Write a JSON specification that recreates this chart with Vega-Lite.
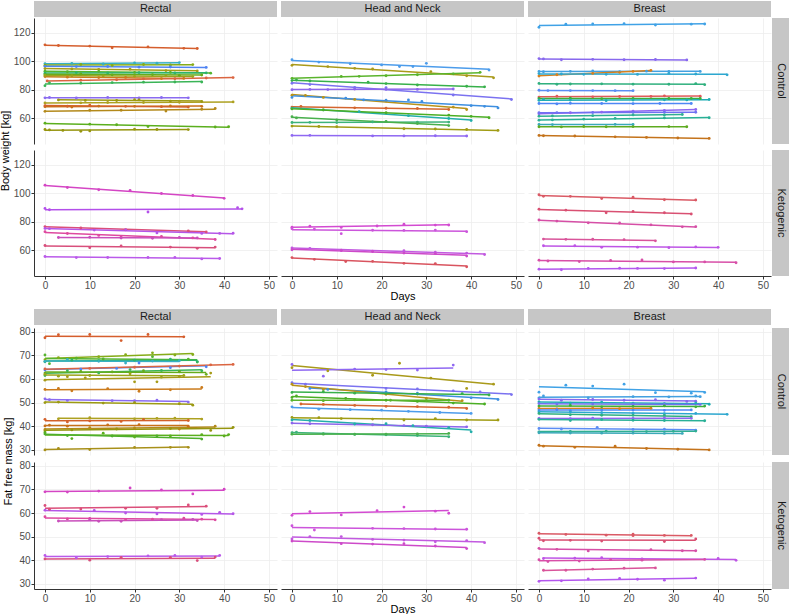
{
"$schema":"https://vega.github.io/schema/vega-lite/v6.json",
"background":"white",
"padding":{"left":0,"top":1,"right":0,"bottom":0},
"datasets":{
"bRC":[
{"p":"A01","t":0,"v":111.7},{"p":"A01","t":3,"v":111.2},{"p":"A01","t":10,"v":110.8},{"p":"A01","t":15,"v":109.6},{"p":"A01","t":23,"v":110.2},{"p":"A01","t":31,"v":109.2},{"p":"A01","t":34,"v":109.1},
{"p":"A02","t":0,"v":98.5},{"p":"A02","t":6,"v":98.7},{"p":"A02","t":13,"v":98.2},{"p":"A02","t":20,"v":99.0},{"p":"A02","t":25,"v":98.8},{"p":"A02","t":30,"v":99.2},
{"p":"A03","t":0,"v":97.4},{"p":"A03","t":8,"v":97.9},{"p":"A03","t":15,"v":97.2},{"p":"A03","t":22,"v":97.9},{"p":"A03","t":28,"v":97.6},{"p":"A03","t":33,"v":97.8},
{"p":"A04","t":0,"v":96.6},{"p":"A04","t":7,"v":96.4},{"p":"A04","t":14,"v":96.5},{"p":"A04","t":21,"v":96.0},{"p":"A04","t":28,"v":96.1},{"p":"A04","t":36,"v":95.8},
{"p":"A05","t":0,"v":95.0},{"p":"A05","t":6,"v":94.8},{"p":"A05","t":12,"v":94.5},{"p":"A05","t":19,"v":94.6},{"p":"A05","t":27,"v":93.6},{"p":"A05","t":34,"v":93.4},
{"p":"A06","t":0,"v":93.2},{"p":"A06","t":5,"v":92.8},{"p":"A06","t":12,"v":93.0},{"p":"A06","t":20,"v":92.3},{"p":"A06","t":28,"v":92.4},{"p":"A06","t":37,"v":91.8},
{"p":"A07","t":0,"v":91.8},{"p":"A07","t":7,"v":92.2},{"p":"A07","t":14,"v":92.0},{"p":"A07","t":21,"v":92.2},{"p":"A07","t":29,"v":91.9},{"p":"A07","t":36,"v":92.0},
{"p":"A08","t":0,"v":90.8},{"p":"A08","t":8,"v":91.2},{"p":"A08","t":15,"v":90.6},{"p":"A08","t":24,"v":90.8},{"p":"A08","t":30,"v":90.3},{"p":"A08","t":35,"v":90.5},
{"p":"A09","t":0,"v":89.4},{"p":"A09","t":5,"v":89.0},{"p":"A09","t":12,"v":88.7},{"p":"A09","t":18,"v":88.8},{"p":"A09","t":26,"v":88.0},{"p":"A09","t":31,"v":88.1},
{"p":"A10","t":0.5,"v":86.3},{"p":"A10","t":8,"v":86.8},{"p":"A10","t":16,"v":87.2},{"p":"A10","t":22,"v":87.8},{"p":"A10","t":29,"v":87.9},{"p":"A10","t":36,"v":88.4},{"p":"A10","t":42,"v":88.7},
{"p":"A11","t":0,"v":83.0},{"p":"A11","t":1,"v":85.0},{"p":"A11","t":8,"v":84.8},{"p":"A11","t":15,"v":85.2},{"p":"A11","t":22,"v":85.5},{"p":"A11","t":29,"v":85.6},{"p":"A11","t":35,"v":85.6},
{"p":"A12","t":0,"v":90.2},{"p":"A12","t":6,"v":90.0},{"p":"A12","t":13,"v":89.8},{"p":"A12","t":20,"v":89.6},{"p":"A12","t":27,"v":89.9},{"p":"A12","t":33,"v":89.4},
{"p":"A13","t":0,"v":74.5},{"p":"A13","t":1,"v":74.7},{"p":"A13","t":7,"v":74.4},{"p":"A13","t":14,"v":74.8},{"p":"A13","t":21,"v":74.4},{"p":"A13","t":26,"v":74.7},{"p":"A13","t":32,"v":74.5},
{"p":"A14","t":3,"v":73.0},{"p":"A14","t":9,"v":72.7},{"p":"A14","t":16,"v":72.6},{"p":"A14","t":20,"v":73.2},{"p":"A14","t":21,"v":73.1},{"p":"A14","t":28,"v":72.2},{"p":"A14","t":35,"v":71.9},
{"p":"A15","t":0,"v":70.9},{"p":"A15","t":8,"v":71.0},{"p":"A15","t":14,"v":71.2},{"p":"A15","t":22,"v":71.2},{"p":"A15","t":30,"v":71.4},{"p":"A15","t":42,"v":71.6},
{"p":"A16","t":0,"v":68.3},{"p":"A16","t":6,"v":68.0},{"p":"A16","t":12,"v":68.7},{"p":"A16","t":20,"v":68.5},{"p":"A16","t":28,"v":68.8},{"p":"A16","t":35,"v":68.5},
{"p":"A17","t":0,"v":69.0},{"p":"A17","t":5,"v":68.6},{"p":"A17","t":10,"v":69.3},{"p":"A17","t":18,"v":68.5},{"p":"A17","t":26,"v":68.3},{"p":"A17","t":32,"v":68.0},
{"p":"A18","t":0,"v":65.0},{"p":"A18","t":10,"v":65.8},{"p":"A18","t":17,"v":65.8},{"p":"A18","t":27,"v":65.2},{"p":"A18","t":35,"v":66.5},{"p":"A18","t":38,"v":67.0},
{"p":"A19","t":0,"v":56.7},{"p":"A19","t":10,"v":56.0},{"p":"A19","t":16,"v":55.6},{"p":"A19","t":23,"v":54.4},{"p":"A19","t":38,"v":54.0},{"p":"A19","t":41,"v":54.2},
{"p":"A20","t":0,"v":52.3},{"p":"A20","t":1,"v":52.0},{"p":"A20","t":4,"v":51.6},{"p":"A20","t":8,"v":51.0},{"p":"A20","t":10,"v":51.3},{"p":"A20","t":20,"v":52.5},{"p":"A20","t":25,"v":52.3},{"p":"A20","t":32,"v":52.2}
],
"bHC":[
{"p":"B01","t":0,"v":101.2},{"p":"B01","t":6,"v":99.6},{"p":"B01","t":13,"v":98.4},{"p":"B01","t":20,"v":97.6},{"p":"B01","t":24,"v":96.5},{"p":"B01","t":27,"v":96.5},{"p":"B01","t":30,"v":98.7},{"p":"B01","t":44,"v":94.0},
{"p":"B02","t":0,"v":97.3},{"p":"B02","t":8,"v":96.4},{"p":"B02","t":14,"v":95.2},{"p":"B02","t":18,"v":94.7},{"p":"B02","t":31,"v":92.9},{"p":"B02","t":39,"v":90.0},{"p":"B02","t":45,"v":88.5},
{"p":"B03","t":0,"v":88.2},{"p":"B03","t":11,"v":89.5},{"p":"B03","t":15,"v":89.6},{"p":"B03","t":21,"v":90.0},{"p":"B03","t":28,"v":90.7},{"p":"B03","t":36,"v":91.3},{"p":"B03","t":42,"v":92.4},
{"p":"B04","t":0,"v":86.6},{"p":"B04","t":1,"v":87.0},{"p":"B04","t":4,"v":86.3},{"p":"B04","t":17,"v":85.4},{"p":"B04","t":21,"v":84.5},{"p":"B04","t":28,"v":83.5},{"p":"B04","t":39,"v":82.6},{"p":"B04","t":43,"v":82.2},
{"p":"B05","t":0,"v":84.7},{"p":"B05","t":4,"v":83.8},{"p":"B05","t":14,"v":81.8},{"p":"B05","t":21,"v":81.7},{"p":"B05","t":36,"v":76.5},{"p":"B05","t":49,"v":73.3},
{"p":"B06","t":0,"v":80.2},{"p":"B06","t":4,"v":80.4},{"p":"B06","t":8,"v":80.3},{"p":"B06","t":14,"v":80.6},{"p":"B06","t":21,"v":80.4},{"p":"B06","t":28,"v":80.4},{"p":"B06","t":36,"v":80.7},
{"p":"B07","t":0,"v":76.3},{"p":"B07","t":3,"v":76.2},{"p":"B07","t":7,"v":74.8},{"p":"B07","t":14,"v":73.4},{"p":"B07","t":21,"v":72.2},{"p":"B07","t":36,"v":68.0},{"p":"B07","t":39,"v":66.3},
{"p":"B08","t":0,"v":74.8},{"p":"B08","t":12,"v":74.3},{"p":"B08","t":16,"v":73.0},{"p":"B08","t":21,"v":72.8},{"p":"B08","t":26,"v":73.0},{"p":"B08","t":29,"v":72.0},{"p":"B08","t":40,"v":69.0},{"p":"B08","t":43,"v":68.5},{"p":"B08","t":46,"v":67.4},
{"p":"B09","t":0,"v":68.0},{"p":"B09","t":2,"v":68.5},{"p":"B09","t":14,"v":67.5},{"p":"B09","t":21,"v":67.2},{"p":"B09","t":28,"v":67.0},{"p":"B09","t":35,"v":66.3},
{"p":"B10","t":0,"v":67.2},{"p":"B10","t":7,"v":66.0},{"p":"B10","t":15,"v":64.8},{"p":"B10","t":26,"v":62.0},{"p":"B10","t":35,"v":60.0},{"p":"B10","t":40,"v":58.6},
{"p":"B11","t":0,"v":66.7},{"p":"B11","t":7,"v":66.0},{"p":"B11","t":21,"v":64.0},{"p":"B11","t":35,"v":62.4},{"p":"B11","t":40,"v":61.5},{"p":"B11","t":44,"v":60.5},
{"p":"B12","t":0,"v":57.2},{"p":"B12","t":4,"v":57.3},{"p":"B12","t":10,"v":57.1},{"p":"B12","t":18,"v":57.6},{"p":"B12","t":28,"v":57.5},{"p":"B12","t":35,"v":57.5},
{"p":"B13","t":0,"v":61.2},{"p":"B13","t":1,"v":60.4},{"p":"B13","t":10,"v":59.0},{"p":"B13","t":21,"v":58.0},{"p":"B13","t":28,"v":56.5},{"p":"B13","t":35,"v":55.0},
{"p":"B14","t":0,"v":54.7},{"p":"B14","t":6,"v":54.4},{"p":"B14","t":10,"v":54.2},{"p":"B14","t":25,"v":52.8},{"p":"B14","t":32,"v":52.6},{"p":"B14","t":39,"v":52.3},{"p":"B14","t":46,"v":51.6},
{"p":"B15","t":0,"v":48.1},{"p":"B15","t":4,"v":48.2},{"p":"B15","t":18,"v":47.8},{"p":"B15","t":25,"v":47.8},{"p":"B15","t":32,"v":47.9},{"p":"B15","t":39,"v":47.7}
],
"bBC":[
{"p":"C01","t":0,"v":124.0},{"p":"C01","t":6,"v":126.1},{"p":"C01","t":12,"v":126.3},{"p":"C01","t":19,"v":126.5},{"p":"C01","t":26,"v":125.6},{"p":"C01","t":34,"v":126.2},{"p":"C01","t":37,"v":126.3},
{"p":"C02","t":0,"v":102.0},{"p":"C02","t":1,"v":101.8},{"p":"C02","t":5,"v":101.2},{"p":"C02","t":12,"v":101.5},{"p":"C02","t":19,"v":101.2},{"p":"C02","t":26,"v":101.4},{"p":"C02","t":33,"v":101.1},
{"p":"C03","t":0,"v":93.0},{"p":"C03","t":1,"v":92.8},{"p":"C03","t":7,"v":93.1},{"p":"C03","t":12,"v":93.3},{"p":"C03","t":18,"v":92.9},{"p":"C03","t":24,"v":93.2},{"p":"C03","t":29,"v":93.0},{"p":"C03","t":36,"v":93.0},
{"p":"C04","t":0,"v":89.8},{"p":"C04","t":4,"v":90.7},{"p":"C04","t":12,"v":91.6},{"p":"C04","t":18,"v":92.4},{"p":"C04","t":21,"v":93.0},{"p":"C04","t":25,"v":93.7},
{"p":"C05","t":0,"v":91.5},{"p":"C05","t":5,"v":91.2},{"p":"C05","t":10,"v":91.0},{"p":"C05","t":15,"v":91.0},{"p":"C05","t":22,"v":90.9},{"p":"C05","t":29,"v":91.7},{"p":"C05","t":35,"v":91.2},{"p":"C05","t":42,"v":90.6},
{"p":"C06","t":0,"v":84.6},{"p":"C06","t":4,"v":84.0},{"p":"C06","t":7,"v":84.2},{"p":"C06","t":14,"v":84.3},{"p":"C06","t":21,"v":84.1},{"p":"C06","t":29,"v":84.0},{"p":"C06","t":35,"v":84.5},{"p":"C06","t":37,"v":83.7},
{"p":"C07","t":0,"v":79.8},{"p":"C07","t":2,"v":79.6},{"p":"C07","t":7,"v":79.6},{"p":"C07","t":12,"v":79.6},{"p":"C07","t":17,"v":79.5},{"p":"C07","t":21,"v":79.5},
{"p":"C08","t":0,"v":75.0},{"p":"C08","t":4,"v":75.6},{"p":"C08","t":12,"v":75.2},{"p":"C08","t":18,"v":75.4},{"p":"C08","t":25,"v":75.5},{"p":"C08","t":28,"v":75.9},{"p":"C08","t":36,"v":75.6},
{"p":"C09","t":0,"v":74.0},{"p":"C09","t":7,"v":74.2},{"p":"C09","t":14,"v":73.9},{"p":"C09","t":21,"v":74.1},{"p":"C09","t":29,"v":74.0},{"p":"C09","t":34,"v":74.1},{"p":"C09","t":36,"v":74.0},
{"p":"C10","t":0,"v":72.8},{"p":"C10","t":1,"v":73.3},{"p":"C10","t":7,"v":72.9},{"p":"C10","t":15,"v":72.5},{"p":"C10","t":21,"v":72.9},{"p":"C10","t":28,"v":73.1},{"p":"C10","t":33,"v":73.0},{"p":"C10","t":38,"v":73.3},
{"p":"C11","t":0,"v":70.5},{"p":"C11","t":4,"v":70.2},{"p":"C11","t":7,"v":70.7},{"p":"C11","t":14,"v":70.5},{"p":"C11","t":21,"v":70.4},{"p":"C11","t":27,"v":70.5},{"p":"C11","t":34,"v":70.5},
{"p":"C12","t":0,"v":63.4},{"p":"C12","t":7,"v":64.0},{"p":"C12","t":14,"v":64.5},{"p":"C12","t":21,"v":65.2},{"p":"C12","t":28,"v":65.6},{"p":"C12","t":35,"v":66.3},
{"p":"C13","t":0,"v":64.0},{"p":"C13","t":4,"v":64.0},{"p":"C13","t":12,"v":64.2},{"p":"C13","t":21,"v":64.3},{"p":"C13","t":28,"v":64.4},{"p":"C13","t":35,"v":64.4},
{"p":"C14","t":0,"v":61.6},{"p":"C14","t":3,"v":61.8},{"p":"C14","t":12,"v":62.0},{"p":"C14","t":21,"v":62.5},{"p":"C14","t":28,"v":62.5},{"p":"C14","t":32,"v":62.8},
{"p":"C15","t":0,"v":58.8},{"p":"C15","t":3,"v":59.0},{"p":"C15","t":10,"v":59.6},{"p":"C15","t":17,"v":60.1},{"p":"C15","t":28,"v":60.4},{"p":"C15","t":38,"v":60.5},
{"p":"C16","t":0,"v":55.8},{"p":"C16","t":3,"v":55.7},{"p":"C16","t":17,"v":55.9},{"p":"C16","t":21,"v":55.8},
{"p":"C17","t":0,"v":54.2},{"p":"C17","t":5,"v":54.1},{"p":"C17","t":10,"v":54.4},{"p":"C17","t":15,"v":54.2},{"p":"C17","t":21,"v":54.3},{"p":"C17","t":29,"v":54.3},{"p":"C17","t":33,"v":54.2},
{"p":"C18","t":0,"v":48.1},{"p":"C18","t":1,"v":47.9},{"p":"C18","t":8,"v":47.7},{"p":"C18","t":17,"v":47.1},{"p":"C18","t":24,"v":46.7},{"p":"C18","t":31,"v":46.3},{"p":"C18","t":38,"v":46.0}
],
"bRK":[
{"p":"D01","t":0,"v":105.8},{"p":"D01","t":5,"v":104.2},{"p":"D01","t":12,"v":102.6},{"p":"D01","t":19,"v":102.1},{"p":"D01","t":26,"v":100.0},{"p":"D01","t":33,"v":98.6},{"p":"D01","t":40,"v":96.6},
{"p":"D02","t":0,"v":89.5},{"p":"D02","t":1,"v":88.6},{"p":"D02","t":23,"v":87.0},{"p":"D02","t":43,"v":90.0},{"p":"D02","t":44,"v":89.2},
{"p":"D03","t":0,"v":76.8},{"p":"D03","t":8,"v":75.8},{"p":"D03","t":18,"v":74.6},{"p":"D03","t":32,"v":73.8},{"p":"D03","t":36,"v":73.0},
{"p":"D04","t":0,"v":75.5},{"p":"D04","t":1,"v":75.3},{"p":"D04","t":11,"v":74.3},{"p":"D04","t":18,"v":74.5},{"p":"D04","t":25,"v":72.3},{"p":"D04","t":35,"v":72.0},{"p":"D04","t":39,"v":72.0},{"p":"D04","t":42,"v":72.1},
{"p":"D05","t":0,"v":73.2},{"p":"D05","t":5,"v":71.9},{"p":"D05","t":12,"v":70.6},{"p":"D05","t":17,"v":69.5},{"p":"D05","t":26,"v":69.8},{"p":"D05","t":33,"v":68.9},{"p":"D05","t":38,"v":67.7},
{"p":"D06","t":3,"v":69.1},{"p":"D06","t":10,"v":69.3},{"p":"D06","t":17,"v":68.7},{"p":"D06","t":24,"v":68.5},{"p":"D06","t":30,"v":69.2},{"p":"D06","t":34,"v":68.8},
{"p":"D07","t":0,"v":63.5},{"p":"D07","t":10,"v":62.0},{"p":"D07","t":17,"v":63.2},{"p":"D07","t":28,"v":62.4},{"p":"D07","t":34,"v":61.5},{"p":"D07","t":38,"v":62.4},
{"p":"D08","t":0,"v":55.8},{"p":"D08","t":7,"v":55.0},{"p":"D08","t":14,"v":55.1},{"p":"D08","t":23,"v":55.1},{"p":"D08","t":29,"v":55.2},{"p":"D08","t":35,"v":54.1},{"p":"D08","t":39,"v":54.4}
],
"bHK":[
{"p":"E01","t":0,"v":76.3},{"p":"E01","t":4,"v":77.0},{"p":"E01","t":11,"v":76.2},{"p":"E01","t":19,"v":77.2},{"p":"E01","t":25,"v":78.4},{"p":"E01","t":32,"v":77.8},{"p":"E01","t":35,"v":77.9},
{"p":"E02","t":0,"v":75.3},{"p":"E02","t":5,"v":75.0},{"p":"E02","t":11,"v":71.8},{"p":"E02","t":18,"v":74.2},{"p":"E02","t":25,"v":74.1},{"p":"E02","t":32,"v":74.3},{"p":"E02","t":39,"v":73.2},
{"p":"E03","t":0,"v":61.8},{"p":"E03","t":4,"v":61.4},{"p":"E03","t":11,"v":60.2},{"p":"E03","t":18,"v":59.6},{"p":"E03","t":25,"v":59.8},{"p":"E03","t":32,"v":58.8},{"p":"E03","t":39,"v":58.2},{"p":"E03","t":43,"v":57.2},
{"p":"E04","t":0,"v":60.5},{"p":"E04","t":11,"v":60.0},{"p":"E04","t":18,"v":59.3},{"p":"E04","t":25,"v":58.2},{"p":"E04","t":32,"v":57.8},{"p":"E04","t":39,"v":56.1},
{"p":"E05","t":0,"v":55.0},{"p":"E05","t":5,"v":53.8},{"p":"E05","t":12,"v":52.2},{"p":"E05","t":18,"v":52.4},{"p":"E05","t":25,"v":51.0},{"p":"E05","t":32,"v":50.8},{"p":"E05","t":39,"v":48.6}
],
"bBK":[
{"p":"F01","t":0,"v":99.1},{"p":"F01","t":1,"v":98.0},{"p":"F01","t":7,"v":98.0},{"p":"F01","t":14,"v":96.4},{"p":"F01","t":21,"v":97.4},{"p":"F01","t":28,"v":95.6},{"p":"F01","t":35,"v":95.4},
{"p":"F02","t":0,"v":89.0},{"p":"F02","t":6,"v":88.3},{"p":"F02","t":15,"v":86.4},{"p":"F02","t":21,"v":87.4},{"p":"F02","t":28,"v":86.5},{"p":"F02","t":34,"v":85.6},
{"p":"F03","t":0,"v":81.4},{"p":"F03","t":4,"v":80.6},{"p":"F03","t":11,"v":79.4},{"p":"F03","t":18,"v":79.3},{"p":"F03","t":25,"v":78.0},{"p":"F03","t":32,"v":76.6},{"p":"F03","t":35,"v":76.7},
{"p":"F04","t":1,"v":68.0},{"p":"F04","t":6,"v":67.8},{"p":"F04","t":12,"v":67.9},{"p":"F04","t":19,"v":67.6},{"p":"F04","t":26,"v":66.8},
{"p":"F05","t":1,"v":63.3},{"p":"F05","t":8,"v":63.3},{"p":"F05","t":14,"v":62.2},{"p":"F05","t":22,"v":62.3},{"p":"F05","t":29,"v":62.0},{"p":"F05","t":35,"v":62.5},{"p":"F05","t":40,"v":62.2},
{"p":"F06","t":0,"v":53.2},{"p":"F06","t":2,"v":52.6},{"p":"F06","t":9,"v":52.2},{"p":"F06","t":16,"v":53.0},{"p":"F06","t":23,"v":53.3},{"p":"F06","t":30,"v":52.0},{"p":"F06","t":37,"v":52.0},{"p":"F06","t":44,"v":51.4},
{"p":"F07","t":0,"v":46.9},{"p":"F07","t":5,"v":46.5},{"p":"F07","t":11,"v":47.4},{"p":"F07","t":18,"v":47.6},{"p":"F07","t":22,"v":47.4},{"p":"F07","t":28,"v":47.3},{"p":"F07","t":35,"v":47.7}
],
"fRC":[
{"p":"A01","t":0,"v":77.5},{"p":"A01","t":3,"v":78.8},{"p":"A01","t":10,"v":78.9},{"p":"A01","t":17,"v":76.3},{"p":"A01","t":23,"v":78.9},{"p":"A01","t":31,"v":77.9},
{"p":"A03","t":0,"v":68.2},{"p":"A03","t":3,"v":69.1},{"p":"A03","t":12,"v":69.5},{"p":"A03","t":18,"v":70.3},{"p":"A03","t":24,"v":71.1},{"p":"A03","t":29,"v":70.2},{"p":"A03","t":33,"v":70.4},
{"p":"A06","t":0,"v":70.2},{"p":"A06","t":1,"v":66.5},{"p":"A06","t":7,"v":68.8},{"p":"A06","t":13,"v":68.5},{"p":"A06","t":24,"v":69.5},{"p":"A06","t":32,"v":68.4},{"p":"A06","t":34,"v":67.2},
{"p":"A07","t":0,"v":67.3},{"p":"A07","t":6,"v":68.0},{"p":"A07","t":12,"v":67.8},{"p":"A07","t":20,"v":68.0},{"p":"A07","t":28,"v":68.4},{"p":"A07","t":34,"v":67.4},
{"p":"A02","t":0,"v":67.5},{"p":"A02","t":5,"v":68.3},{"p":"A02","t":12,"v":67.5},{"p":"A02","t":18,"v":66.8},{"p":"A02","t":24,"v":67.6},{"p":"A02","t":30,"v":67.8},
{"p":"A04","t":0,"v":63.8},{"p":"A04","t":8,"v":64.2},{"p":"A04","t":16,"v":64.5},{"p":"A04","t":21,"v":66.8},{"p":"A04","t":28,"v":64.8},{"p":"A04","t":36,"v":65.2},
{"p":"A10","t":0,"v":64.3},{"p":"A10","t":10,"v":64.5},{"p":"A10","t":20,"v":65.0},{"p":"A10","t":30,"v":65.5},{"p":"A10","t":37,"v":66.0},{"p":"A10","t":42,"v":66.2},
{"p":"A11","t":0,"v":61.5},{"p":"A11","t":5,"v":63.5},{"p":"A11","t":12,"v":62.6},{"p":"A11","t":19,"v":64.0},{"p":"A11","t":26,"v":63.6},{"p":"A11","t":35,"v":63.5},
{"p":"A08","t":0,"v":62.5},{"p":"A08","t":8,"v":63.2},{"p":"A08","t":15,"v":63.0},{"p":"A08","t":22,"v":63.5},{"p":"A08","t":30,"v":63.2},{"p":"A08","t":36,"v":62.0},
{"p":"A12","t":0,"v":62.0},{"p":"A12","t":3,"v":61.2},{"p":"A12","t":10,"v":61.5},{"p":"A12","t":19,"v":62.2},{"p":"A12","t":26,"v":60.8},{"p":"A12","t":31,"v":61.5},
{"p":"A05","t":0,"v":59.5},{"p":"A05","t":5,"v":61.0},{"p":"A05","t":9,"v":60.5},{"p":"A05","t":20,"v":58.8},{"p":"A05","t":25,"v":58.8},{"p":"A05","t":30,"v":61.0},{"p":"A05","t":37,"v":62.5},
{"p":"A09","t":0,"v":55.6},{"p":"A09","t":3,"v":56.0},{"p":"A09","t":6,"v":55.0},{"p":"A09","t":14,"v":55.9},{"p":"A09","t":21,"v":54.8},{"p":"A09","t":28,"v":55.4},{"p":"A09","t":35,"v":56.4},
{"p":"A13","t":0,"v":51.6},{"p":"A13","t":1,"v":51.2},{"p":"A13","t":5,"v":50.9},{"p":"A13","t":15,"v":50.8},{"p":"A13","t":20,"v":50.8},{"p":"A13","t":25,"v":51.0},{"p":"A13","t":32,"v":50.2},
{"p":"A14","t":0,"v":50.0},{"p":"A14","t":3,"v":50.2},{"p":"A14","t":13,"v":49.8},{"p":"A14","t":20,"v":50.0},{"p":"A14","t":30,"v":49.5},{"p":"A14","t":33,"v":48.9},
{"p":"A17","t":0,"v":42.9},{"p":"A17","t":5,"v":41.8},{"p":"A17","t":10,"v":42.2},{"p":"A17","t":17,"v":42.0},{"p":"A17","t":22,"v":42.8},{"p":"A17","t":32,"v":42.4},
{"p":"A15","t":3,"v":43.1},{"p":"A15","t":10,"v":43.6},{"p":"A15","t":20,"v":43.1},{"p":"A15","t":25,"v":43.3},{"p":"A15","t":29,"v":43.4},{"p":"A15","t":35,"v":43.0},
{"p":"A16","t":0,"v":40.1},{"p":"A16","t":1,"v":40.4},{"p":"A16","t":5,"v":40.0},{"p":"A16","t":14,"v":40.5},{"p":"A16","t":21,"v":40.6},{"p":"A16","t":32,"v":40.0},
{"p":"A18","t":0,"v":38.6},{"p":"A18","t":10,"v":39.4},{"p":"A18","t":20,"v":39.2},{"p":"A18","t":30,"v":38.8},{"p":"A18","t":38,"v":40.0},
{"p":"A20","t":0,"v":38.0},{"p":"A20","t":6,"v":38.4},{"p":"A20","t":16,"v":38.8},{"p":"A20","t":28,"v":39.0},{"p":"A20","t":37,"v":38.2},{"p":"A20","t":42,"v":39.5},
{"p":"A19","t":0,"v":37.3},{"p":"A19","t":6,"v":34.7},{"p":"A19","t":13,"v":37.0},{"p":"A19","t":20,"v":35.4},{"p":"A19","t":28,"v":35.8},{"p":"A19","t":35,"v":36.4},{"p":"A19","t":40,"v":35.8},{"p":"A19","t":41,"v":36.4},
{"p":"A21","t":0,"v":36.7},{"p":"A21","t":5,"v":36.0},{"p":"A21","t":15,"v":35.8},{"p":"A21","t":25,"v":35.8},{"p":"A21","t":35,"v":34.5},
{"p":"A22","t":0,"v":29.9},{"p":"A22","t":3,"v":30.5},{"p":"A22","t":10,"v":30.1},{"p":"A22","t":20,"v":31.0},{"p":"A22","t":28,"v":31.0},{"p":"A22","t":32,"v":31.0}
],
"fHC":[
{"p":"B02","t":0,"v":64.8},{"p":"B02","t":8,"v":63.5},{"p":"B02","t":18,"v":61.6},{"p":"B02","t":24,"v":66.7},{"p":"B02","t":31,"v":60.4},{"p":"B02","t":39,"v":56.0},{"p":"B02","t":45,"v":57.8},
{"p":"B15","t":0,"v":66.2},{"p":"B15","t":7,"v":61.2},{"p":"B15","t":14,"v":64.2},{"p":"B15","t":21,"v":64.0},{"p":"B15","t":28,"v":63.8},{"p":"B15","t":36,"v":65.9},
{"p":"B05","t":0,"v":58.4},{"p":"B05","t":3,"v":57.8},{"p":"B05","t":21,"v":56.0},{"p":"B05","t":28,"v":55.8},{"p":"B05","t":36,"v":55.0},{"p":"B05","t":42,"v":54.5},{"p":"B05","t":49,"v":53.4},
{"p":"B08","t":4,"v":56.0},{"p":"B08","t":8,"v":55.6},{"p":"B08","t":21,"v":54.5},{"p":"B08","t":28,"v":54.0},{"p":"B08","t":40,"v":52.0},{"p":"B08","t":46,"v":51.3},
{"p":"B07","t":0,"v":57.8},{"p":"B07","t":3,"v":56.8},{"p":"B07","t":7,"v":55.6},{"p":"B07","t":21,"v":53.5},{"p":"B07","t":30,"v":51.8},{"p":"B07","t":38,"v":50.8},
{"p":"B04","t":0,"v":54.3},{"p":"B04","t":7,"v":54.6},{"p":"B04","t":14,"v":54.0},{"p":"B04","t":21,"v":53.8},{"p":"B04","t":28,"v":53.6},{"p":"B04","t":38,"v":53.8},{"p":"B04","t":44,"v":53.2},
{"p":"B11","t":0,"v":52.2},{"p":"B11","t":1,"v":52.8},{"p":"B11","t":12,"v":51.8},{"p":"B11","t":21,"v":51.0},{"p":"B11","t":28,"v":50.5},{"p":"B11","t":36,"v":49.8},{"p":"B11","t":43,"v":49.4},
{"p":"B09","t":2,"v":49.4},{"p":"B09","t":7,"v":49.2},{"p":"B09","t":14,"v":48.8},{"p":"B09","t":21,"v":48.4},{"p":"B09","t":28,"v":48.3},{"p":"B09","t":35,"v":48.0},{"p":"B09","t":39,"v":47.5},
{"p":"B01","t":0,"v":48.2},{"p":"B01","t":6,"v":47.2},{"p":"B01","t":13,"v":47.0},{"p":"B01","t":20,"v":46.8},{"p":"B01","t":26,"v":46.3},{"p":"B01","t":33,"v":45.8},{"p":"B01","t":40,"v":45.4},
{"p":"B14","t":0,"v":43.7},{"p":"B14","t":6,"v":43.6},{"p":"B14","t":11,"v":43.2},{"p":"B14","t":18,"v":43.0},{"p":"B14","t":25,"v":42.6},{"p":"B14","t":32,"v":43.2},{"p":"B14","t":39,"v":42.6},{"p":"B14","t":46,"v":42.6},
{"p":"B10","t":0,"v":42.6},{"p":"B10","t":4,"v":42.4},{"p":"B10","t":14,"v":40.9},{"p":"B10","t":21,"v":41.0},{"p":"B10","t":27,"v":40.2},{"p":"B10","t":35,"v":39.4},{"p":"B10","t":40,"v":37.6},
{"p":"B06","t":0,"v":41.3},{"p":"B06","t":4,"v":41.0},{"p":"B06","t":18,"v":40.6},{"p":"B06","t":25,"v":40.2},{"p":"B06","t":30,"v":40.0},{"p":"B06","t":39,"v":39.7},
{"p":"B12","t":0,"v":37.2},{"p":"B12","t":1,"v":37.4},{"p":"B12","t":7,"v":36.8},{"p":"B12","t":14,"v":36.5},{"p":"B12","t":21,"v":36.3},{"p":"B12","t":28,"v":36.0},{"p":"B12","t":35,"v":35.5},
{"p":"B13","t":0,"v":36.6},{"p":"B13","t":7,"v":36.6},{"p":"B13","t":14,"v":36.6},{"p":"B13","t":21,"v":36.6},{"p":"B13","t":28,"v":36.7},{"p":"B13","t":35,"v":36.9},
{"p":"B03","t":0,"v":51.0},{"p":"B03","t":7,"v":50.8},{"p":"B03","t":14,"v":51.2},{"p":"B03","t":22,"v":51.0},{"p":"B03","t":30,"v":50.8},{"p":"B03","t":35,"v":51.0}
],
"fBC":[
{"p":"C01","t":0,"v":54.4},{"p":"C01","t":6,"v":57.4},{"p":"C01","t":12,"v":57.0},{"p":"C01","t":19,"v":57.8},{"p":"C01","t":26,"v":54.2},{"p":"C01","t":34,"v":54.0},{"p":"C01","t":37,"v":54.3},
{"p":"C03","t":0,"v":52.0},{"p":"C03","t":1,"v":52.8},{"p":"C03","t":11,"v":52.0},{"p":"C03","t":21,"v":52.5},{"p":"C03","t":29,"v":52.4},{"p":"C03","t":35,"v":52.8},{"p":"C03","t":36,"v":52.5},
{"p":"C02","t":0,"v":51.5},{"p":"C02","t":5,"v":51.0},{"p":"C02","t":12,"v":51.3},{"p":"C02","t":19,"v":51.0},{"p":"C02","t":26,"v":51.2},{"p":"C02","t":33,"v":50.5},{"p":"C02","t":35,"v":50.6},
{"p":"C10","t":0,"v":50.3},{"p":"C10","t":7,"v":49.8},{"p":"C10","t":14,"v":50.2},{"p":"C10","t":21,"v":49.8},{"p":"C10","t":28,"v":49.5},{"p":"C10","t":35,"v":49.8},{"p":"C10","t":38,"v":49.3},
{"p":"C13","t":0,"v":49.6},{"p":"C13","t":4,"v":49.4},{"p":"C13","t":12,"v":49.4},{"p":"C13","t":21,"v":49.3},{"p":"C13","t":28,"v":49.3},{"p":"C13","t":36,"v":49.2},
{"p":"C09","t":0,"v":48.5},{"p":"C09","t":7,"v":48.8},{"p":"C09","t":14,"v":48.2},{"p":"C09","t":21,"v":48.4},{"p":"C09","t":28,"v":48.6},{"p":"C09","t":35,"v":48.2},{"p":"C09","t":37,"v":48.5},
{"p":"C04","t":0,"v":47.5},{"p":"C04","t":4,"v":47.3},{"p":"C04","t":12,"v":47.7},{"p":"C04","t":18,"v":47.4},{"p":"C04","t":25,"v":47.6},
{"p":"C11","t":0,"v":46.8},{"p":"C11","t":4,"v":47.0},{"p":"C11","t":7,"v":46.6},{"p":"C11","t":14,"v":46.8},{"p":"C11","t":21,"v":46.8},{"p":"C11","t":28,"v":46.7},{"p":"C11","t":34,"v":46.9},
{"p":"C05","t":0,"v":46.1},{"p":"C05","t":7,"v":46.0},{"p":"C05","t":14,"v":45.7},{"p":"C05","t":21,"v":45.5},{"p":"C05","t":28,"v":45.3},{"p":"C05","t":35,"v":45.4},{"p":"C05","t":42,"v":45.0},
{"p":"C06","t":0,"v":45.4},{"p":"C06","t":7,"v":44.8},{"p":"C06","t":14,"v":44.6},{"p":"C06","t":21,"v":44.6},{"p":"C06","t":28,"v":44.5},{"p":"C06","t":34,"v":44.0},
{"p":"C12","t":0,"v":43.3},{"p":"C12","t":7,"v":43.2},{"p":"C12","t":12,"v":43.4},{"p":"C12","t":21,"v":43.3},{"p":"C12","t":28,"v":43.5},{"p":"C12","t":34,"v":43.3},
{"p":"C15","t":0,"v":42.9},{"p":"C15","t":7,"v":42.4},{"p":"C15","t":14,"v":42.8},{"p":"C15","t":21,"v":42.5},{"p":"C15","t":28,"v":42.4},{"p":"C15","t":37,"v":42.3},
{"p":"C07","t":0,"v":39.0},{"p":"C07","t":5,"v":38.8},{"p":"C07","t":13,"v":39.5},{"p":"C07","t":21,"v":38.6},{"p":"C07","t":28,"v":38.7},{"p":"C07","t":35,"v":38.3},
{"p":"C14","t":0,"v":37.6},{"p":"C14","t":7,"v":37.8},{"p":"C14","t":15,"v":37.9},{"p":"C14","t":24,"v":37.7},{"p":"C14","t":30,"v":37.8},{"p":"C14","t":35,"v":37.9},
{"p":"C16","t":0,"v":37.2},{"p":"C16","t":7,"v":37.1},{"p":"C16","t":14,"v":37.0},{"p":"C16","t":21,"v":37.0},{"p":"C16","t":28,"v":36.9},{"p":"C16","t":32,"v":36.9},
{"p":"C18","t":0,"v":31.9},{"p":"C18","t":1,"v":31.5},{"p":"C18","t":8,"v":31.0},{"p":"C18","t":17,"v":31.5},{"p":"C18","t":24,"v":30.5},{"p":"C18","t":31,"v":30.2},{"p":"C18","t":38,"v":29.9}
],
"fRK":[
{"p":"D01","t":0,"v":69.0},{"p":"D01","t":5,"v":68.9},{"p":"D01","t":12,"v":69.3},{"p":"D01","t":19,"v":70.6},{"p":"D01","t":26,"v":69.8},{"p":"D01","t":33,"v":68.1},{"p":"D01","t":40,"v":70.1},
{"p":"D03","t":0,"v":63.2},{"p":"D03","t":1,"v":61.6},{"p":"D03","t":8,"v":61.7},{"p":"D03","t":18,"v":62.0},{"p":"D03","t":25,"v":62.0},{"p":"D03","t":32,"v":63.4},{"p":"D03","t":36,"v":62.9},
{"p":"D04","t":0,"v":61.2},{"p":"D04","t":11,"v":61.1},{"p":"D04","t":18,"v":60.0},{"p":"D04","t":25,"v":59.6},{"p":"D04","t":35,"v":59.4},{"p":"D04","t":39,"v":60.3},{"p":"D04","t":42,"v":59.7},
{"p":"D05","t":0,"v":58.4},{"p":"D05","t":5,"v":57.5},{"p":"D05","t":10,"v":57.7},{"p":"D05","t":18,"v":57.2},{"p":"D05","t":24,"v":57.4},{"p":"D05","t":31,"v":57.8},{"p":"D05","t":35,"v":57.4},{"p":"D05","t":38,"v":57.1},
{"p":"D06","t":3,"v":56.6},{"p":"D06","t":10,"v":57.2},{"p":"D06","t":12,"v":56.5},{"p":"D06","t":17,"v":56.5},{"p":"D06","t":26,"v":57.2},{"p":"D06","t":33,"v":57.3},{"p":"D06","t":34,"v":56.8},
{"p":"D08","t":0,"v":42.0},{"p":"D08","t":7,"v":41.0},{"p":"D08","t":14,"v":41.5},{"p":"D08","t":23,"v":41.8},{"p":"D08","t":29,"v":42.0},{"p":"D08","t":35,"v":41.3},{"p":"D08","t":39,"v":42.0},
{"p":"D07","t":0,"v":40.5},{"p":"D07","t":10,"v":40.0},{"p":"D07","t":17,"v":41.2},{"p":"D07","t":28,"v":41.2},{"p":"D07","t":34,"v":39.8},{"p":"D07","t":38,"v":41.3}
],
"fHK":[
{"p":"E01","t":0,"v":59.0},{"p":"E01","t":4,"v":60.6},{"p":"E01","t":11,"v":59.2},{"p":"E01","t":19,"v":61.0},{"p":"E01","t":25,"v":62.5},{"p":"E01","t":32,"v":60.8},{"p":"E01","t":35,"v":59.9},
{"p":"E02","t":0,"v":54.6},{"p":"E02","t":5,"v":52.8},{"p":"E02","t":18,"v":53.5},{"p":"E02","t":25,"v":53.4},{"p":"E02","t":32,"v":53.2},{"p":"E02","t":39,"v":53.1},
{"p":"E03","t":0,"v":49.0},{"p":"E03","t":4,"v":50.0},{"p":"E03","t":11,"v":50.0},{"p":"E03","t":18,"v":48.8},{"p":"E03","t":25,"v":48.5},{"p":"E03","t":32,"v":47.8},{"p":"E03","t":39,"v":48.3},{"p":"E03","t":43,"v":47.4},
{"p":"E04","t":0,"v":48.1},{"p":"E04","t":11,"v":47.0},{"p":"E04","t":18,"v":46.8},{"p":"E04","t":25,"v":47.0},{"p":"E04","t":32,"v":46.0},{"p":"E04","t":39,"v":44.9}
],
"fBK":[
{"p":"F01","t":0,"v":51.4},{"p":"F01","t":6,"v":50.9},{"p":"F01","t":15,"v":50.6},{"p":"F01","t":21,"v":51.0},{"p":"F01","t":21,"v":50.4},{"p":"F01","t":28,"v":50.5},{"p":"F01","t":34,"v":50.5},
{"p":"F02","t":0,"v":49.3},{"p":"F02","t":1,"v":48.2},{"p":"F02","t":7,"v":48.4},{"p":"F02","t":14,"v":48.1},{"p":"F02","t":28,"v":47.9},{"p":"F02","t":35,"v":49.0},
{"p":"F03","t":0,"v":45.0},{"p":"F03","t":4,"v":44.6},{"p":"F03","t":11,"v":43.9},{"p":"F03","t":25,"v":44.4},{"p":"F03","t":32,"v":44.0},{"p":"F03","t":35,"v":44.0},
{"p":"F05","t":1,"v":40.7},{"p":"F05","t":8,"v":40.8},{"p":"F05","t":14,"v":41.0},{"p":"F05","t":23,"v":40.5},{"p":"F05","t":40,"v":40.7},{"p":"F05","t":44,"v":39.9},
{"p":"F06","t":0,"v":40.2},{"p":"F06","t":2,"v":39.4},{"p":"F06","t":9,"v":39.6},{"p":"F06","t":16,"v":40.2},{"p":"F06","t":23,"v":40.0},{"p":"F06","t":37,"v":40.3},
{"p":"F04","t":1,"v":35.7},{"p":"F04","t":6,"v":35.7},{"p":"F04","t":12,"v":36.2},{"p":"F04","t":19,"v":36.6},{"p":"F04","t":26,"v":36.7},
{"p":"F07","t":0,"v":31.0},{"p":"F07","t":5,"v":31.2},{"p":"F07","t":11,"v":32.0},{"p":"F07","t":18,"v":32.2},{"p":"F07","t":22,"v":31.9},{"p":"F07","t":28,"v":31.5},{"p":"F07","t":35,"v":32.4}
]
},
"vconcat":[
{"title":{"text":"Body weight [kg]","orient":"left","anchor":"middle","offset":2},
 "spacing":1,
 "vconcat":[
  {"spacing":4,"hconcat":[
   {"width":243,"height":16,"view":{"fill":"#C6C6C6","stroke":null},"data":{"values":[{"s":"Rectal"}]},"mark":{"type":"text","fontSize":11,"color":"#1A1A1A"},"encoding":{"text":{"field":"s","type":"nominal"}}},
   {"width":243,"height":16,"view":{"fill":"#C6C6C6","stroke":null},"data":{"values":[{"s":"Head and Neck"}]},"mark":{"type":"text","fontSize":11,"color":"#1A1A1A"},"encoding":{"text":{"field":"s","type":"nominal"}}},
   {"width":243,"height":16,"view":{"fill":"#C6C6C6","stroke":null},"data":{"values":[{"s":"Breast"}]},"mark":{"type":"text","fontSize":11,"color":"#1A1A1A"},"encoding":{"text":{"field":"s","type":"nominal"}}}
  ]},
  {"spacing":6,"vconcat":[
   {"spacing":1,"hconcat":[
    {"spacing":4,"hconcat":[
     {"width":243,"height":126,"data":{"name":"bRC"},"encoding":{"x":{"field":"t","type":"quantitative","scale":{"domain":[-2.45,51.8],"nice":false,"zero":false},"axis":{"values":[0,10,20,30,40,50],"labels":false,"ticks":false,"domain":false,"title":null,"minExtent":0,"maxExtent":0}},"y":{"field":"v","type":"quantitative","scale":{"domain":[42.1,130.5],"nice":false,"zero":false},"axis":{"values":[60,80,100,120],"title":null}},"color":{"field":"p","type":"nominal","legend":null}},"layer":[{"transform":[{"regression":"v","on":"t","groupby":["p"]}],"mark":{"type":"line","strokeWidth":1.5}},{"mark":{"type":"circle","size":8,"opacity":1}}]},
     {"width":243,"height":126,"data":{"name":"bHC"},"encoding":{"x":{"field":"t","type":"quantitative","scale":{"domain":[-2.45,51.8],"nice":false,"zero":false},"axis":{"values":[0,10,20,30,40,50],"labels":false,"ticks":false,"domain":false,"title":null,"minExtent":0,"maxExtent":0}},"y":{"field":"v","type":"quantitative","scale":{"domain":[42.1,130.5],"nice":false,"zero":false},"axis":{"values":[60,80,100,120],"labels":false,"ticks":false,"domain":false,"title":null,"minExtent":0,"maxExtent":0}},"color":{"field":"p","type":"nominal","legend":null}},"layer":[{"transform":[{"regression":"v","on":"t","groupby":["p"]}],"mark":{"type":"line","strokeWidth":1.5}},{"mark":{"type":"circle","size":8,"opacity":1}}]},
     {"width":243,"height":126,"data":{"name":"bBC"},"encoding":{"x":{"field":"t","type":"quantitative","scale":{"domain":[-2.45,51.8],"nice":false,"zero":false},"axis":{"values":[0,10,20,30,40,50],"labels":false,"ticks":false,"domain":false,"title":null,"minExtent":0,"maxExtent":0}},"y":{"field":"v","type":"quantitative","scale":{"domain":[42.1,130.5],"nice":false,"zero":false},"axis":{"values":[60,80,100,120],"labels":false,"ticks":false,"domain":false,"title":null,"minExtent":0,"maxExtent":0}},"color":{"field":"p","type":"nominal","legend":null}},"layer":[{"transform":[{"regression":"v","on":"t","groupby":["p"]}],"mark":{"type":"line","strokeWidth":1.5}},{"mark":{"type":"circle","size":8,"opacity":1}}]}
    ]},
    {"width":17,"height":126,"view":{"fill":"#C6C6C6","stroke":null},"data":{"values":[{"s":"Control"}]},"mark":{"type":"text","fontSize":11,"angle":90,"color":"#1A1A1A"},"encoding":{"text":{"field":"s","type":"nominal"}}}
   ]},
   {"spacing":1,"hconcat":[
    {"spacing":4,"hconcat":[
     {"width":243,"height":126,"data":{"name":"bRK"},"encoding":{"x":{"field":"t","type":"quantitative","scale":{"domain":[-2.45,51.8],"nice":false,"zero":false},"axis":{"values":[0,10,20,30,40,50],"title":null}},"y":{"field":"v","type":"quantitative","scale":{"domain":[42.1,130.5],"nice":false,"zero":false},"axis":{"values":[60,80,100,120],"title":null}},"color":{"field":"p","type":"nominal","legend":null}},"layer":[{"transform":[{"regression":"v","on":"t","groupby":["p"]}],"mark":{"type":"line","strokeWidth":1.5}},{"mark":{"type":"circle","size":8,"opacity":1}}]},
     {"width":243,"height":126,"data":{"name":"bHK"},"encoding":{"x":{"field":"t","type":"quantitative","scale":{"domain":[-2.45,51.8],"nice":false,"zero":false},"axis":{"values":[0,10,20,30,40,50],"title":"Days"}},"y":{"field":"v","type":"quantitative","scale":{"domain":[42.1,130.5],"nice":false,"zero":false},"axis":{"values":[60,80,100,120],"labels":false,"ticks":false,"domain":false,"title":null,"minExtent":0,"maxExtent":0}},"color":{"field":"p","type":"nominal","legend":null}},"layer":[{"transform":[{"regression":"v","on":"t","groupby":["p"]}],"mark":{"type":"line","strokeWidth":1.5}},{"mark":{"type":"circle","size":8,"opacity":1}}]},
     {"width":243,"height":126,"data":{"name":"bBK"},"encoding":{"x":{"field":"t","type":"quantitative","scale":{"domain":[-2.45,51.8],"nice":false,"zero":false},"axis":{"values":[0,10,20,30,40,50],"title":null}},"y":{"field":"v","type":"quantitative","scale":{"domain":[42.1,130.5],"nice":false,"zero":false},"axis":{"values":[60,80,100,120],"labels":false,"ticks":false,"domain":false,"title":null,"minExtent":0,"maxExtent":0}},"color":{"field":"p","type":"nominal","legend":null}},"layer":[{"transform":[{"regression":"v","on":"t","groupby":["p"]}],"mark":{"type":"line","strokeWidth":1.5}},{"mark":{"type":"circle","size":8,"opacity":1}}]}
    ]},
    {"width":17,"height":126,"view":{"fill":"#C6C6C6","stroke":null},"data":{"values":[{"s":"Ketogenic"}]},"mark":{"type":"text","fontSize":11,"angle":90,"color":"#1A1A1A"},"encoding":{"text":{"field":"s","type":"nominal"}}}
   ]}
  ]}
 ]},
{"title":{"text":"Fat free mass [kg]","orient":"left","anchor":"middle","offset":5},
 "spacing":1,
 "vconcat":[
  {"spacing":4,"hconcat":[
   {"width":243,"height":16,"view":{"fill":"#C6C6C6","stroke":null},"data":{"values":[{"s":"Rectal"}]},"mark":{"type":"text","fontSize":11,"color":"#1A1A1A"},"encoding":{"text":{"field":"s","type":"nominal"}}},
   {"width":243,"height":16,"view":{"fill":"#C6C6C6","stroke":null},"data":{"values":[{"s":"Head and Neck"}]},"mark":{"type":"text","fontSize":11,"color":"#1A1A1A"},"encoding":{"text":{"field":"s","type":"nominal"}}},
   {"width":243,"height":16,"view":{"fill":"#C6C6C6","stroke":null},"data":{"values":[{"s":"Breast"}]},"mark":{"type":"text","fontSize":11,"color":"#1A1A1A"},"encoding":{"text":{"field":"s","type":"nominal"}}}
  ]},
  {"spacing":5,"vconcat":[
   {"spacing":1,"hconcat":[
    {"spacing":4,"hconcat":[
     {"width":243,"height":127,"data":{"name":"fRC"},"encoding":{"x":{"field":"t","type":"quantitative","scale":{"domain":[-2.45,51.8],"nice":false,"zero":false},"axis":{"values":[0,10,20,30,40,50],"labels":false,"ticks":false,"domain":false,"title":null,"minExtent":0,"maxExtent":0}},"y":{"field":"v","type":"quantitative","scale":{"domain":[27.75,81.65],"nice":false,"zero":false},"axis":{"values":[30,40,50,60,70,80],"title":null}},"color":{"field":"p","type":"nominal","legend":null}},"layer":[{"transform":[{"regression":"v","on":"t","groupby":["p"]}],"mark":{"type":"line","strokeWidth":1.5}},{"mark":{"type":"circle","size":8,"opacity":1}}]},
     {"width":243,"height":127,"data":{"name":"fHC"},"encoding":{"x":{"field":"t","type":"quantitative","scale":{"domain":[-2.45,51.8],"nice":false,"zero":false},"axis":{"values":[0,10,20,30,40,50],"labels":false,"ticks":false,"domain":false,"title":null,"minExtent":0,"maxExtent":0}},"y":{"field":"v","type":"quantitative","scale":{"domain":[27.75,81.65],"nice":false,"zero":false},"axis":{"values":[30,40,50,60,70,80],"labels":false,"ticks":false,"domain":false,"title":null,"minExtent":0,"maxExtent":0}},"color":{"field":"p","type":"nominal","legend":null}},"layer":[{"transform":[{"regression":"v","on":"t","groupby":["p"]}],"mark":{"type":"line","strokeWidth":1.5}},{"mark":{"type":"circle","size":8,"opacity":1}}]},
     {"width":243,"height":127,"data":{"name":"fBC"},"encoding":{"x":{"field":"t","type":"quantitative","scale":{"domain":[-2.45,51.8],"nice":false,"zero":false},"axis":{"values":[0,10,20,30,40,50],"labels":false,"ticks":false,"domain":false,"title":null,"minExtent":0,"maxExtent":0}},"y":{"field":"v","type":"quantitative","scale":{"domain":[27.75,81.65],"nice":false,"zero":false},"axis":{"values":[30,40,50,60,70,80],"labels":false,"ticks":false,"domain":false,"title":null,"minExtent":0,"maxExtent":0}},"color":{"field":"p","type":"nominal","legend":null}},"layer":[{"transform":[{"regression":"v","on":"t","groupby":["p"]}],"mark":{"type":"line","strokeWidth":1.5}},{"mark":{"type":"circle","size":8,"opacity":1}}]}
    ]},
    {"width":17,"height":127,"view":{"fill":"#C6C6C6","stroke":null},"data":{"values":[{"s":"Control"}]},"mark":{"type":"text","fontSize":11,"angle":90,"color":"#1A1A1A"},"encoding":{"text":{"field":"s","type":"nominal"}}}
   ]},
   {"spacing":1,"hconcat":[
    {"spacing":4,"hconcat":[
     {"width":243,"height":127,"data":{"name":"fRK"},"encoding":{"x":{"field":"t","type":"quantitative","scale":{"domain":[-2.45,51.8],"nice":false,"zero":false},"axis":{"values":[0,10,20,30,40,50],"title":null}},"y":{"field":"v","type":"quantitative","scale":{"domain":[27.75,81.65],"nice":false,"zero":false},"axis":{"values":[30,40,50,60,70,80],"title":null}},"color":{"field":"p","type":"nominal","legend":null}},"layer":[{"transform":[{"regression":"v","on":"t","groupby":["p"]}],"mark":{"type":"line","strokeWidth":1.5}},{"mark":{"type":"circle","size":8,"opacity":1}}]},
     {"width":243,"height":127,"data":{"name":"fHK"},"encoding":{"x":{"field":"t","type":"quantitative","scale":{"domain":[-2.45,51.8],"nice":false,"zero":false},"axis":{"values":[0,10,20,30,40,50],"title":"Days"}},"y":{"field":"v","type":"quantitative","scale":{"domain":[27.75,81.65],"nice":false,"zero":false},"axis":{"values":[30,40,50,60,70,80],"labels":false,"ticks":false,"domain":false,"title":null,"minExtent":0,"maxExtent":0}},"color":{"field":"p","type":"nominal","legend":null}},"layer":[{"transform":[{"regression":"v","on":"t","groupby":["p"]}],"mark":{"type":"line","strokeWidth":1.5}},{"mark":{"type":"circle","size":8,"opacity":1}}]},
     {"width":243,"height":127,"data":{"name":"fBK"},"encoding":{"x":{"field":"t","type":"quantitative","scale":{"domain":[-2.45,51.8],"nice":false,"zero":false},"axis":{"values":[0,10,20,30,40,50],"title":null}},"y":{"field":"v","type":"quantitative","scale":{"domain":[27.75,81.65],"nice":false,"zero":false},"axis":{"values":[30,40,50,60,70,80],"labels":false,"ticks":false,"domain":false,"title":null,"minExtent":0,"maxExtent":0}},"color":{"field":"p","type":"nominal","legend":null}},"layer":[{"transform":[{"regression":"v","on":"t","groupby":["p"]}],"mark":{"type":"line","strokeWidth":1.5}},{"mark":{"type":"circle","size":8,"opacity":1}}]}
    ]},
    {"width":17,"height":127,"view":{"fill":"#C6C6C6","stroke":null},"data":{"values":[{"s":"Ketogenic"}]},"mark":{"type":"text","fontSize":11,"angle":90,"color":"#1A1A1A"},"encoding":{"text":{"field":"s","type":"nominal"}}}
   ]}
  ]}
 ]}
],
"spacing":8,
"config":{
 "font":"Liberation Sans",
 "view":{"stroke":null},
 "range":{"category":["#D55E2D","#37AFC4","#86AC18","#4F83F3","#A69B17","#55B42E","#2DB46C","#66AC1C","#CB7B1C","#DB6541","#3AB457","#9DA31C","#8A6BF0","#9C9A12","#ADA121","#C8701A","#D3602A","#B3891A","#5BAF1E","#96950F","#4EAF2B","#A8901A",
 "#4C9CEB","#A99A1A","#5AB42C","#37B04A","#7B72F0","#8D66EC","#B8921A","#3E8FE0","#D4652E","#23AEAA","#4BAE24","#3DB37A","#49B04C","#A09C14","#8F68F2",
 "#40A2E6","#8868EE","#43A0E0","#D7801E","#2DA7CF","#30B07E","#5C8DF4","#E0595A","#3EAE3A","#20ADB4","#4F87F5","#8F66F0","#7071F2","#30AF92","#28B096","#3AA9B8","#5EAB20","#C4731B",
 "#D445C4","#B34FEA","#DB4F7A","#B556E8","#DE4AA0","#C94FBC","#D84F7C","#BA5AEA",
 "#D34BD1","#CC55DB","#C25AE0","#CD4AC9","#D9545F",
 "#DA5A65","#D95072","#D64FA6","#D9549A","#BE55E6","#D84FA8","#B356EE"]},
 "axis":{"gridColor":"#EEEEEE","gridWidth":0.8,"domainColor":"#333333","domainWidth":1,"tickColor":"#333333","tickSize":3,"labelColor":"#4D4D4D","labelFontSize":10,"labelPadding":1,"titleFontSize":11,"titleFontWeight":"normal","titleColor":"#000000","titlePadding":0},
 "title":{"fontSize":11,"fontWeight":"normal","color":"#000000"}
}
}
